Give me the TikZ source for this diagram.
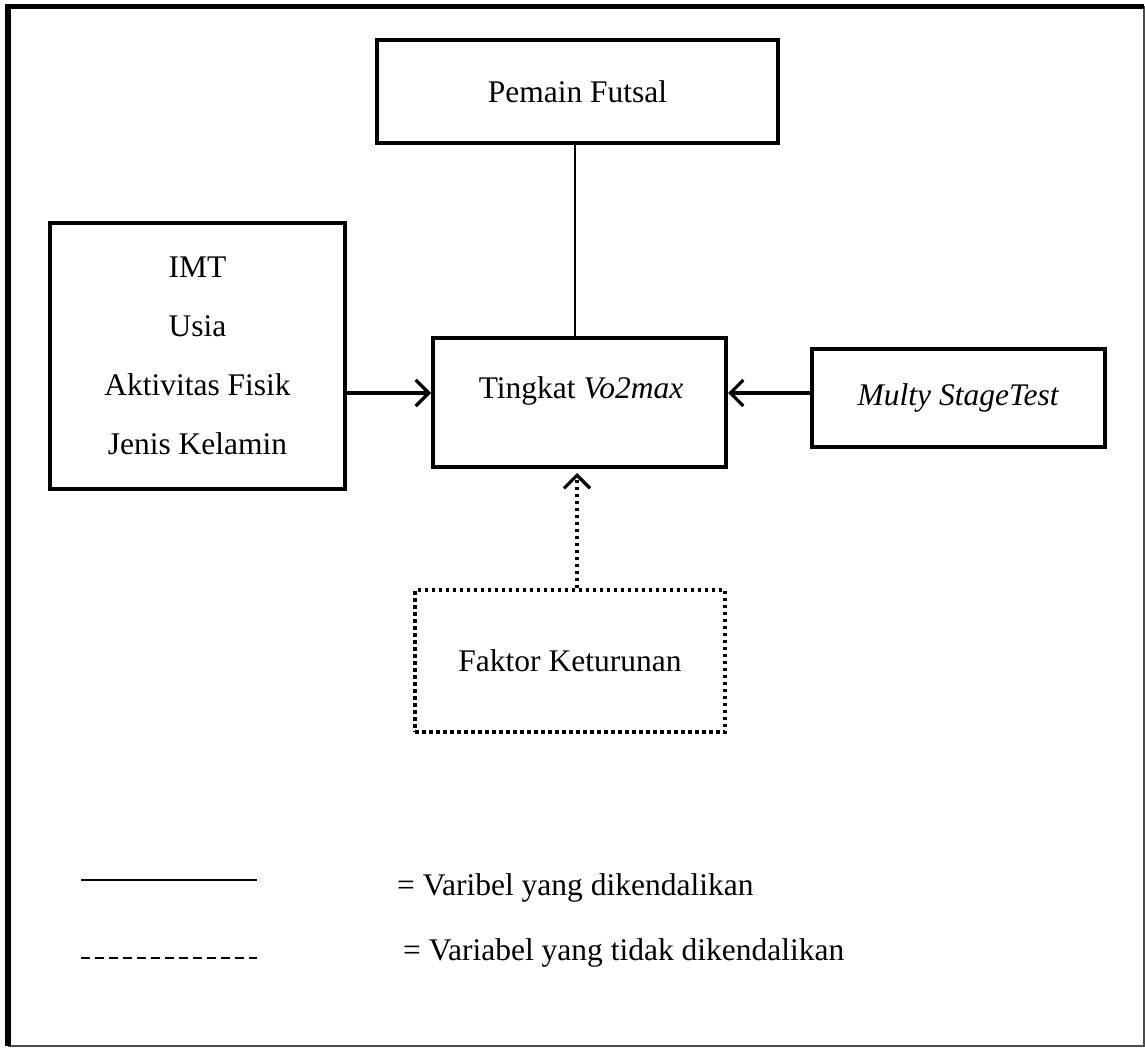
\documentclass[tikz,border=0pt]{standalone}
\usepackage{fontspec}
\setmainfont{Liberation Serif}
\usetikzlibrary{arrows.meta}
\begin{document}
\begin{tikzpicture}[x=1pt,y=-1pt,
  every node/.style={font=\fontsize{31.5}{38}\selectfont, inner sep=0pt},
  box/.style={draw, line width=4pt, rectangle},
  dotbox/.style={draw, line width=3.2pt, dash pattern=on 3.5pt off 3.5pt, rectangle},
  arr/.style={line width=3.2pt, -{Straight Barb[length=13pt,width=26pt,line width=3.2pt]}},
  dotarr/.style={line width=3.2pt, dash pattern=on 3.5pt off 3.5pt, -{Straight Barb[length=13pt,width=26pt,line width=3.2pt]}},
  thin line/.style={line width=1.6pt}]
\useasboundingbox (0,0) rectangle (1145,1048);
% outer frame
\draw[line width=1.5pt, black!70] (1144,6.5) -- (1144,1046) -- (8,1046);
\draw[line width=5.5pt] (8,1046) -- (8,6.5) -- (1144,6.5);

% boxes
\node[box, minimum width=401pt, minimum height=103pt] (pemain) at (577.5,91.5) {Pemain Futsal};
\node[box, minimum width=295pt, minimum height=266pt, align=center,
      font=\fontsize{31.5}{59}\selectfont] (faktorA) at (197.5,356) {IMT\\Usia\\Aktivitas Fisik\\Jenis Kelamin};
\node[box, minimum width=293pt, minimum height=129pt] (tingkat) at (579.5,402.5) {};
\node (tingkatlbl) at (581,391) {Tingkat \textit{Vo2max}};
\node[box, minimum width=293pt, minimum height=98pt] (multy) at (958.5,398) {\textit{Multy StageTest}};
\node[dotbox, minimum width=310pt, minimum height=142pt] (faktor) at (570,661) {Faktor Keturunan};

% helper coordinates
\coordinate (ay) at (0,393);
\coordinate (vx) at (575,0);
\coordinate (dx) at (577,0);

% connectors
\draw[thin line] (pemain.south -| vx) -- (tingkat.north -| vx);
\draw[arr] (faktorA.east |- ay) -- (tingkat.west |- ay);
\draw[arr] (multy.west |- ay) -- (tingkat.east |- ay);
\draw[dotarr] (faktor.north -| dx) -- ([yshift=-4pt]tingkat.south -| dx);

% legend
\coordinate (l1a) at (81,880);
\coordinate (l1b) at (257,880);
\coordinate (l2a) at (81,958);
\coordinate (l2b) at (257,958);
\draw[line width=2pt] (l1a) -- (l1b);
\draw[line width=2.2pt, dash pattern=on 8.5pt off 5.5pt] (l2a) -- (l2b);
\node[anchor=base west] (leg1) at (397,895) {= Varibel yang dikendalikan};
\node[anchor=base west] (leg2) at (403,960) {= Variabel yang tidak dikendalikan};
\end{tikzpicture}
\end{document}
